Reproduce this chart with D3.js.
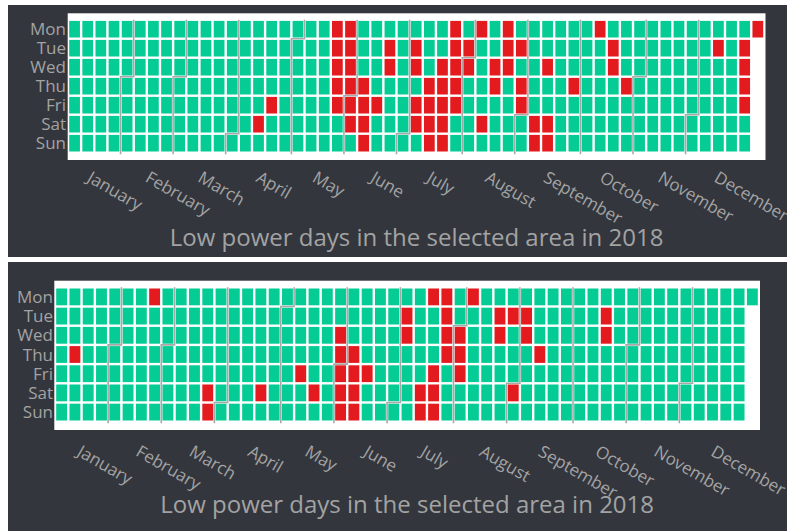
<!DOCTYPE html>
<html>
<head>
<meta charset="utf-8">
<script src="https://cdn.jsdelivr.net/npm/d3@7"></script>
<style>
  html, body { margin: 0; padding: 0; background: #fff; }
  text { font-family: "Open Sans", "Noto Sans", sans-serif; }
</style>
</head>
<body>
<svg width="787" height="531"></svg>
<script>
var year = 2018;
var dayNames = ["Mon", "Tue", "Wed", "Thu", "Fri", "Sat", "Sun"];
var monthNames = ["January", "February", "March", "April", "May", "June",
  "July", "August", "September", "October", "November", "December"];
var chartTitle = "Low power days in the selected area in 2018";

// low power days, upper chart
var lowDaysA = [
  "2018-04-14", "2018-04-20",
  "2018-05-21", "2018-05-22", "2018-05-23", "2018-05-24", "2018-05-25",
  "2018-05-28", "2018-05-29", "2018-05-30", "2018-05-31", "2018-06-01", "2018-06-02",
  "2018-06-07", "2018-06-08", "2018-06-09", "2018-06-10",
  "2018-06-15", "2018-06-19", "2018-06-20",
  "2018-07-03", "2018-07-04", "2018-07-06", "2018-07-07",
  "2018-07-12", "2018-07-13", "2018-07-14", "2018-07-15",
  "2018-07-18", "2018-07-19", "2018-07-20", "2018-07-21", "2018-07-22",
  "2018-07-23", "2018-07-24", "2018-07-25", "2018-07-26", "2018-07-27",
  "2018-07-31", "2018-08-01", "2018-08-06", "2018-08-11",
  "2018-08-15", "2018-08-16", "2018-08-20", "2018-08-21", "2018-08-22",
  "2018-08-28", "2018-08-30", "2018-08-31",
  "2018-09-08", "2018-09-09", "2018-09-12", "2018-09-15", "2018-09-16",
  "2018-09-27", "2018-10-08", "2018-10-16", "2018-10-17", "2018-10-25",
  "2018-12-11", "2018-12-25", "2018-12-26", "2018-12-27", "2018-12-28",
  "2018-12-31"
];

// low power days, lower chart
var lowDaysB = [
  "2018-01-11", "2018-02-19", "2018-03-24", "2018-03-25", "2018-04-21",
  "2018-05-11", "2018-05-19",
  "2018-05-30", "2018-05-31", "2018-06-01", "2018-06-02", "2018-06-03",
  "2018-06-07", "2018-06-08", "2018-06-09", "2018-06-10", "2018-06-15",
  "2018-07-03", "2018-07-04", "2018-07-14", "2018-07-15",
  "2018-07-16", "2018-07-20", "2018-07-21", "2018-07-22",
  "2018-07-23", "2018-07-24", "2018-07-25", "2018-07-26",
  "2018-08-01", "2018-08-02", "2018-08-03", "2018-08-06",
  "2018-08-21", "2018-08-22", "2018-08-28", "2018-09-01",
  "2018-09-04", "2018-09-05", "2018-09-13", "2018-10-16", "2018-10-17"
];

var green = "#05cb95", red = "#e31b1e", dark = "#33363d", grey = "#a3a3a3";

var svg = d3.select("svg");
var parse = d3.timeParse("%Y-%m-%d");
var yearStart = new Date(year, 0, 1);
var allDays = d3.timeDays(yearStart, new Date(year + 1, 0, 1));

function week(d) { return d3.timeMonday.count(yearStart, d); }
function weekday(d) { return (d.getDay() + 6) % 7; }

function drawPanel(cfg, lowDays) {
  var g = svg.append("g");
  var low = new Set(lowDays.map(function(s) { return +parse(s); }));

  g.append("rect")
    .attr("x", cfg.bg[0]).attr("y", cfg.bg[1])
    .attr("width", cfg.bg[2] - cfg.bg[0]).attr("height", cfg.bg[3] - cfg.bg[1])
    .attr("fill", dark);

  g.append("rect")
    .attr("x", cfg.box[0]).attr("y", cfg.box[1])
    .attr("width", cfg.box[2] - cfg.box[0]).attr("height", cfg.box[3] - cfg.box[1])
    .attr("fill", "#fff");

  var x = d3.scaleLinear().domain([0, 53]).range([cfg.gx0, cfg.gx1]);
  var y = d3.scaleLinear().domain([0, 7]).range([cfg.gy0, cfg.gy1]);
  var xTime = d3.scaleTime()
    .domain([yearStart, d3.timeDay.offset(yearStart, 53 * 7)])
    .range([cfg.gx0, cfg.gx1]);
  var cw = x(1) - x(0), ch = y(1) - y(0), gap = 1.2;

  g.append("g").selectAll("rect")
    .data(allDays)
    .enter().append("rect")
      .attr("x", function(d) { return x(week(d)) + gap; })
      .attr("y", function(d) { return y(weekday(d)) + gap; })
      .attr("width", cw - 2 * gap)
      .attr("height", ch - 2 * gap)
      .attr("fill", function(d) { return low.has(+d) ? red : green; });

  // month boundaries
  var starts = d3.timeMonths(new Date(year, 1, 1), new Date(year, 11, 2));
  g.append("g").selectAll("path")
    .data(starts)
    .enter().append("path")
      .attr("fill", "none")
      .attr("stroke", "#a8a8a8")
      .attr("stroke-width", 1.6)
      .attr("d", function(d) {
        var w = week(d), dd = weekday(d);
        if (dd === 0) return "M" + x(w) + "," + y(0) + "V" + (y(7) + 1.5);
        return "M" + x(w + 1) + "," + y(0) + "V" + y(dd) + "H" + x(w) + "V" + (y(7) + 1.5);
      });

  g.append("g").selectAll("text")
    .data(dayNames)
    .enter().append("text")
      .attr("x", cfg.gx0 - 2)
      .attr("y", function(d, i) { return y(i) + ch / 2 + 6; })
      .attr("text-anchor", "end")
      .attr("fill", grey)
      .style("font-size", "17px")
      .text(function(d) { return d; });

  g.append("g").selectAll("text")
    .data(monthNames)
    .enter().append("text")
      .attr("transform", function(d, i) {
        return "translate(" + (xTime(new Date(year, i, 1)) + cfg.labelDx) + "," + cfg.labelY + ") rotate(30)";
      })
      .attr("fill", grey)
      .style("font-size", "17px")
      .text(function(d) { return d; });

  g.append("text")
    .attr("x", (cfg.box[0] + cfg.box[2]) / 2)
    .attr("y", cfg.titleY)
    .attr("text-anchor", "middle")
    .attr("fill", grey)
    .style("font-size", "24px")
    .text(chartTitle);
}

drawPanel({
  bg: [8, 5, 787, 257], box: [67.7, 13.3, 765.5, 160],
  gx0: 68, gx1: 764.4, gy0: 19.7, gy1: 152.7,
  labelDx: 18, labelY: 181, titleY: 246
}, lowDaysA);

drawPanel({
  bg: [8, 262, 787, 531], box: [54.3, 280.7, 760, 430],
  gx0: 55, gx1: 759, gy0: 287.3, gy1: 421.7,
  labelDx: 21, labelY: 455, titleY: 513
}, lowDaysB);
</script>
</body>
</html>
